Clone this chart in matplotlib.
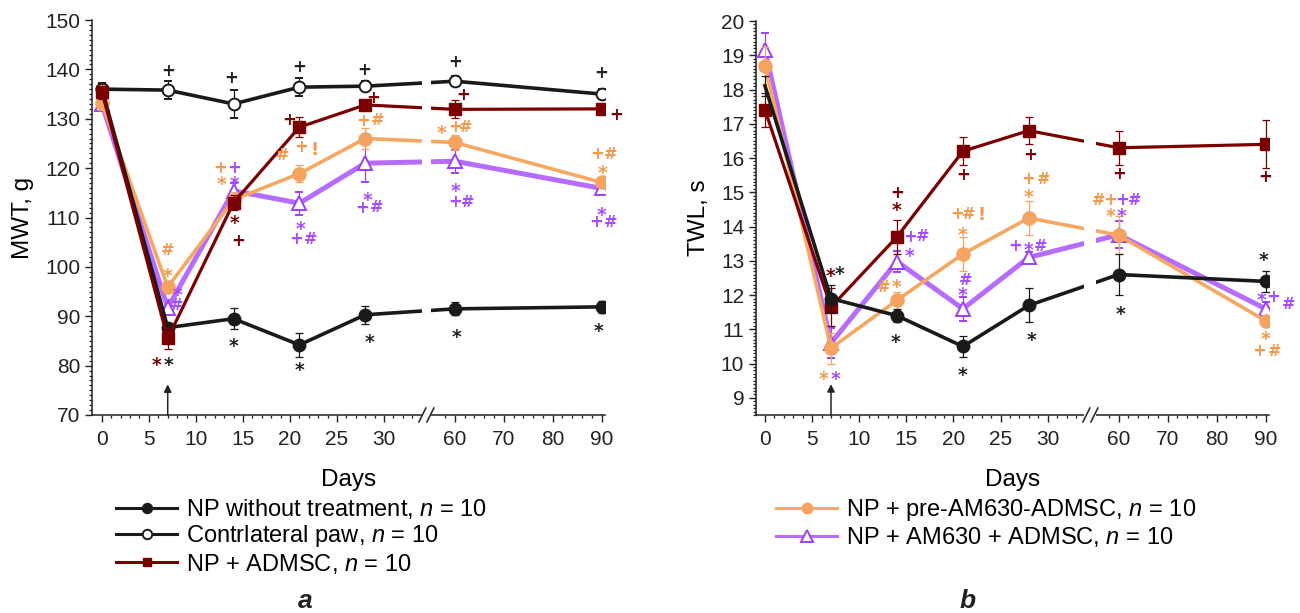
import numpy as np
import matplotlib.pyplot as plt
from matplotlib.lines import Line2D
from matplotlib.ticker import FixedLocator, MultipleLocator

plt.rcParams['font.family'] = ['Liberation Sans', 'DejaVu Sans']
plt.rcParams['mathtext.fontset'] = 'custom'
plt.rcParams['mathtext.rm'] = 'Liberation Sans'
plt.rcParams['mathtext.it'] = 'Liberation Sans:italic'

days = [0, 7, 14, 21, 28, 60, 90]
day_ticks = [0, 5, 10, 15, 20, 25, 30, 60, 70, 80, 90]
day_minor = list(range(1, 34)) + list(range(58, 91, 2))

# MWT, g (panel a)
mwt_np = [136.0, 87.7, 89.5, 84.2, 90.3, 91.5, 91.9]
mwt_np_err = [1.0, 1.0, 2.1, 2.4, 1.8, 1.3, 1.2]
mwt_contra = [136.0, 135.8, 133.0, 136.4, 136.6, 137.6, 135.0]
mwt_contra_err = [1.3, 1.8, 2.9, 1.8, 1.0, 1.0, 1.0]
mwt_admsc = [135.5, 85.5, 113.0, 128.3, 132.8, 131.9, 132.0]
mwt_admsc_err = [1.5, 2.1, 1.5, 2.0, 1.0, 1.8, 1.0]
mwt_pre = [133.2, 95.9, 113.6, 118.9, 126.0, 125.2, 117.1]
mwt_pre_err = [1.5, 1.0, 1.5, 1.7, 2.2, 1.5, 1.0]
mwt_am = [133.0, 91.7, 115.4, 112.9, 121.0, 121.4, 115.9]
mwt_am_err = [1.0, 1.5, 1.5, 2.3, 3.8, 2.3, 1.2]

# TWL, s (panel b)
twl_np = [18.1, 11.9, 11.4, 10.5, 11.7, 12.6, 12.4]
twl_np_err = [0.3, 0.4, 0.2, 0.3, 0.5, 0.6, 0.3]
twl_admsc = [17.4, 11.65, 13.7, 16.2, 16.8, 16.3, 16.4]
twl_admsc_err = [0.5, 0.55, 0.5, 0.4, 0.4, 0.5, 0.7]
twl_pre = [18.7, 10.45, 11.85, 13.2, 14.25, 13.75, 11.25]
twl_pre_err = [0.55, 0.45, 0.25, 0.5, 0.5, 0.55, 0.15]
twl_am = [19.15, 10.6, 12.98, 11.6, 13.1, 13.76, 11.6]
twl_am_err = [0.5, 0.45, 0.3, 0.35, 0.15, 0.4, 0.2]

labels = {
    'np': r'NP without treatment, $\it{n}$ = 10',
    'contra': r'Contrlateral paw, $\it{n}$ = 10',
    'admsc': r'NP + ADMSC, $\it{n}$ = 10',
    'pre': r'NP + pre-AM630-ADMSC, $\it{n}$ = 10',
    'am': r'NP + AM630 + ADMSC, $\it{n}$ = 10',
}

# significance signs: (series, point index, sign, dx px, dy px)
mwt_marks = [
    ('np', 1, '*', 1, -33), ('np', 2, '*', 0, -23), ('np', 3, '*', 0, -21),
    ('np', 4, '*', 4, -23), ('np', 5, '*', 2, -24), ('np', 6, '*', -3, -20),
    ('contra', 1, '+', 0, 20), ('contra', 2, '+', -2, 27), ('contra', 3, '+', 0, 21),
    ('contra', 4, '+', -1, 17), ('contra', 5, '+', 0, 20), ('contra', 6, '+', 0, 22),
    ('admsc', 1, '*', -11, -22), ('admsc', 2, '*', 1, -16), ('admsc', 2, '+', 5, -37),
    ('admsc', 3, '+', -10, 8), ('admsc', 4, '+', 8, 8), ('admsc', 5, '+', 8, 15),
    ('admsc', 6, '+', 15, -5),
    ('pre', 1, '*', 0, 16), ('pre', 1, '#', 0, 38), ('pre', 2, '+', -13, 33),
    ('pre', 2, '*', -12, 20), ('pre', 3, '#', -17, 19), ('pre', 3, '+', 2, 28),
    ('pre', 3, '!', 15, 25), ('pre', 4, '+', -2, 18), ('pre', 4, '#', 12, 19),
    ('pre', 5, '*', -13, 14), ('pre', 5, '+', 0, 16), ('pre', 5, '#', 11, 16),
    ('pre', 6, '+', -4, 29), ('pre', 6, '#', 9, 29), ('pre', 6, '*', 1, 14),
    ('am', 1, '*', 10, 17), ('am', 1, '#', 9, 4), ('am', 2, '+', 1, 24),
    ('am', 2, '*', 1, 11), ('am', 3, '*', 1, -21), ('am', 3, '+', -3, -35),
    ('am', 3, '#', 11, -35), ('am', 4, '*', 2, -32), ('am', 4, '+', -3, -44),
    ('am', 4, '#', 11, -43), ('am', 5, '*', 1, -25), ('am', 5, '+', 0, -40),
    ('am', 5, '#', 13, -40), ('am', 6, '*', 0, -22), ('am', 6, '+', -5, -33),
    ('am', 6, '#', 9, -33),
]
twl_marks = [
    ('np', 1, '*', 9, 29), ('np', 2, '*', -1, -22), ('np', 3, '*', 0, -24),
    ('np', 4, '*', 3, -30), ('np', 5, '*', 2, -35), ('np', 6, '*', -2, 26),
    ('admsc', 1, '*', 0, 36), ('admsc', 2, '*', 0, 31), ('admsc', 2, '+', 0, 45),
    ('admsc', 3, '+', 0, -23), ('admsc', 4, '+', 1, -23), ('admsc', 5, '+', 1, -25),
    ('admsc', 6, '+', 0, -32),
    ('pre', 1, '*', -7, -26), ('pre', 2, '#', -13, 14), ('pre', 2, '*', 0, 18),
    ('pre', 3, '*', 0, 23), ('pre', 3, '+', -6, 41), ('pre', 3, '#', 6, 41),
    ('pre', 3, '!', 19, 40), ('pre', 4, '*', 0, 25), ('pre', 4, '+', -1, 40),
    ('pre', 4, '#', 15, 40), ('pre', 5, '#', -20, 36), ('pre', 5, '+', -8, 36),
    ('pre', 5, '*', -8, 24), ('pre', 6, '*', 0, -14), ('pre', 6, '+', -6, -29),
    ('pre', 6, '#', 9, -29),
    ('am', 1, '*', 5, -31), ('am', 2, '+', 13, 26), ('am', 2, '#', 26, 26),
    ('am', 2, '*', 13, 10), ('am', 3, '#', 3, 30), ('am', 3, '*', 0, 18),
    ('am', 4, '+', -14, 12), ('am', 4, '*', 0, 12), ('am', 4, '#', 12, 12),
    ('am', 5, '+', 4, 36), ('am', 5, '#', 16, 36), ('am', 5, '*', 3, 23),
    ('am', 6, '*', -4, 13), ('am', 6, '+', 8, 13), ('am', 6, '#', 23, 6),
]

styles = {
    'np': dict(color='#1a1a1a', marker='o', ms=9, mfc='#1a1a1a', mec='#1a1a1a', lw=2.6),
    'contra': dict(color='#1a1a1a', marker='o', ms=8.5, mfc='white', mec='#1a1a1a', mew=1.4, lw=2.6),
    'admsc': dict(color='#7a0000', marker='s', ms=8, mfc='#7a0000', mec='#7a0000', lw=2.3),
    'pre': dict(color='#f5a862', marker='o', ms=9.5, mfc='#f4a460', mec='#f4a460', lw=2.6),
    'am': dict(color='#b56cff', marker='^', ms=10, mfc='white', mec='#9d40f5', mew=1.4, lw=3.6),
}
sign_colors = {'np': '#222222', 'contra': '#222222', 'admsc': '#7a0000',
               'pre': '#f29a4c', 'am': '#a64dff'}
sign_size = {'+': 12, '#': 11.5, '!': 13, '*': 13.5}
sign_mid = {'+': 0.36, '#': 0.36, '!': 0.36, '*': 0.56}

# broken day axis: 0..34.5 normal, 54.2.. compressed
brk_lo, brk_hi, squeeze = 34.5, 54.2, 0.52
_xd = [-100, brk_lo, brk_hi, 300]
_xp = [-100, brk_lo, brk_lo + 0.01, brk_lo + 0.01 + (300 - brk_hi) * squeeze]


def fwd(x):
    return np.interp(np.asarray(x, dtype=float), _xd, _xp)


def inv(p):
    return np.interp(np.asarray(p, dtype=float), _xp, _xd)


fig = plt.figure(figsize=(13, 6.13), dpi=100)
ax1 = fig.add_axes([92 / 1300, 1 - 415 / 613, 513 / 1300, 395 / 613])
ax2 = fig.add_axes([756 / 1300, 1 - 415 / 613, 513 / 1300, 394 / 613])


def draw_panel(ax, data, order, marks, ylim, ymajor, yminor, ylabel, arrow_top, gap_px, skip_first=()):
    for z, key in enumerate(order):
        vals, err = data[key]
        st = dict(styles[key])
        ax.errorbar(days, vals, yerr=err, capsize=3, elinewidth=0.9, capthick=0.9,
                    ecolor=st['mec'], zorder=3 + z,
                    markevery=(1 if key in skip_first else None) and list(range(1, len(days))),
                    **st)
        for k, i, s, dx, dy in marks:
            if k != key:
                continue
            em = sign_size[s] * 100 / 72
            ax.annotate(s, xy=(days[i], vals[i]), xytext=(dx, dy - sign_mid[s] * em),
                        textcoords='offset pixels', ha='center', va='baseline',
                        color=sign_colors[key], fontsize=sign_size[s], fontweight='bold',
                        family='DejaVu Sans', zorder=20)

    ax.set_xscale('function', functions=(fwd, inv))
    ax.set_xlim(-1.05, 90.7)
    ax.set_ylim(*ylim)
    ax.xaxis.set_major_locator(FixedLocator(day_ticks))
    ax.xaxis.set_minor_locator(FixedLocator(day_minor))
    ax.set_xticklabels([str(d) for d in day_ticks])
    ax.yaxis.set_major_locator(MultipleLocator(ymajor))
    ax.yaxis.set_minor_locator(MultipleLocator(yminor))
    ax.tick_params(which='major', direction='out', length=5, width=1, labelsize=15, colors='#222222')
    ax.tick_params(which='minor', direction='out', length=2.5, width=0.9, colors='#222222')
    ax.tick_params(axis='x', pad=6)
    for side in ('top', 'right'):
        ax.spines[side].set_visible(False)
    for side in ('left', 'bottom'):
        ax.spines[side].set_linewidth(1.1)
        ax.spines[side].set_color('#222222')
    ax.set_xlabel('Days', fontsize=17.5, labelpad=14)
    ax.set_ylabel(ylabel, fontsize=17.5, labelpad=8)

    # gap in the lines and the axis at the break
    x0, x1 = ax.get_xlim()
    p0, p1 = fwd(x0), fwd(x1)
    bbox = ax.get_position()
    ppx = (p1 - p0) / (bbox.width * 1300)
    pb = fwd(brk_lo)
    ax.axvspan(inv(pb - gap_px / 2 * ppx), inv(pb + gap_px / 2 * ppx), ymin=-0.02, ymax=1,
               color='white', lw=0, zorder=15, clip_on=False)
    fb = (pb - p0) / (p1 - p0)
    hw = 3.5 / (bbox.width * 1300)
    hh = 7 / (bbox.height * 613)
    for c in (fb - 4 / (bbox.width * 1300), fb + 4 / (bbox.width * 1300)):
        ax.plot([c - hw, c + hw], [-hh, hh], transform=ax.transAxes, color='#222222',
                lw=1.1, clip_on=False, zorder=16)

    ax.annotate('', xy=(7, arrow_top), xytext=(7, ylim[0]),
                arrowprops=dict(arrowstyle='-|>', color='#222222', lw=1.1, mutation_scale=11,
                                shrinkA=0, shrinkB=0), zorder=16)


mwt = {'np': (mwt_np, mwt_np_err), 'contra': (mwt_contra, mwt_contra_err),
       'admsc': (mwt_admsc, mwt_admsc_err), 'pre': (mwt_pre, mwt_pre_err),
       'am': (mwt_am, mwt_am_err)}
twl = {'np': (twl_np, twl_np_err), 'admsc': (twl_admsc, twl_admsc_err),
       'pre': (twl_pre, twl_pre_err), 'am': (twl_am, twl_am_err)}

draw_panel(ax1, mwt, ['am', 'pre', 'np', 'contra', 'admsc'], mwt_marks,
           (70, 150), 10, 1, 'MWT, g', 76.2, 9)
draw_panel(ax2, twl, ['am', 'pre', 'admsc', 'np'], twl_marks,
           (8.5, 20), 1, 0.1, 'TWL, s', 9.4, 12, skip_first=('np',))
ax2.set_xlim(-0.96, 90.7)


def handle(key):
    st = dict(styles[key])
    st['lw'] = 2.2
    st['ms'] = st['ms'] * 0.8
    return Line2D([], [], **st)


fig.legend([handle(k) for k in ('np', 'contra', 'admsc')],
           [labels[k] for k in ('np', 'contra', 'admsc')],
           loc='upper left', bbox_to_anchor=(116 / 1300, 1 - 497 / 613), frameon=False,
           fontsize=17, handlelength=2.6, handletextpad=0.35, labelspacing=0.1,
           borderpad=0, borderaxespad=0)
fig.legend([handle(k) for k in ('pre', 'am')],
           [labels[k] for k in ('pre', 'am')],
           loc='upper left', bbox_to_anchor=(776 / 1300, 1 - 497 / 613), frameon=False,
           fontsize=17, handlelength=2.6, handletextpad=0.35, labelspacing=0.1,
           borderpad=0, borderaxespad=0)

fig.text(305 / 1300, 5 / 613, 'a', fontsize=19, fontweight='bold', style='italic',
         ha='center', va='baseline', color='#222222')
fig.text(968 / 1300, 5 / 613, 'b', fontsize=19, fontweight='bold', style='italic',
         ha='center', va='baseline', color='#222222')

fig.savefig('out.png', dpi=100)
